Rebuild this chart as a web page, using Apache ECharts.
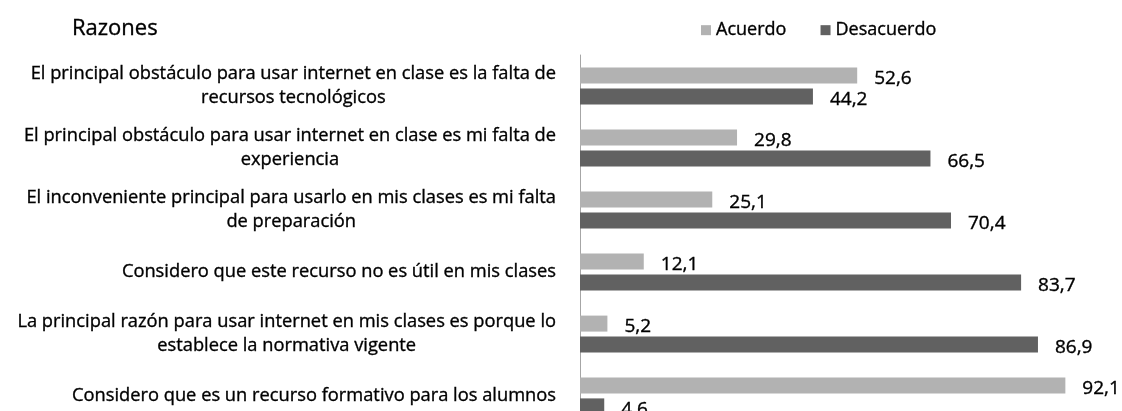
<!DOCTYPE html>
<html>
<head>
<meta charset="utf-8">
<script src="https://cdn.jsdelivr.net/npm/echarts@6/dist/echarts.min.js"></script>
<style>
  html, body { margin: 0; padding: 0; overflow: hidden; background: #fff; }
  #chart { width: 1122px; height: 430px; }
</style>
</head>
<body>
<div id="chart"></div>
<script>
// categorias (con los saltos de línea como en la imagen)
const categories = [
  'El principal obstáculo para usar internet en clase es la falta de\nrecursos tecnológicos',
  'El principal obstáculo para usar internet en clase es mi falta de\nexperiencia',
  'El inconveniente principal para usarlo en mis clases es mi falta\nde preparación',
  'Considero que este recurso no es útil en mis clases',
  'La principal razón para usar internet en mis clases es porque lo\nestablece la normativa vigente',
  'Considero que es un recurso formativo para los alumnos'
];
const acuerdo = [52.6, 29.8, 25.1, 12.1, 5.2, 92.1];
const desacuerdo = [44.2, 66.5, 70.4, 83.7, 86.9, 4.6];

const FONT = '"Open Sans"';
const lightGray = '#b2b2b2';
const darkGray = '#616161';

// trazo fino para que el texto se vea algo más grueso, como en la imagen
const heavy = { textBorderColor: '#000', textBorderWidth: 0.35 };

const chart = echarts.init(document.getElementById('chart'));

// valores con coma decimal
const fmt = p => String(p.value).replace('.', ',');

const valueLabel = Object.assign({
  show: true, position: 'right', distance: 17, offset: [0, 3],
  formatter: fmt, fontFamily: FONT, fontSize: 19, color: '#000'
}, heavy);

const option = {
  animation: false,
  textStyle: { fontFamily: FONT },
  title: {
    text: 'Razones',
    left: 67,
    top: 13,
    textStyle: Object.assign({ fontFamily: FONT, fontSize: 22, fontWeight: 'normal', color: '#000' }, heavy)
  },
  legend: {
    data: ['Acuerdo', 'Desacuerdo'],
    left: 696,
    top: 16,
    icon: 'rect',
    itemWidth: 10,
    itemHeight: 10,
    itemGap: 34,
    textStyle: Object.assign({ fontFamily: FONT, fontSize: 18, color: '#000' }, heavy)
  },
  grid: { left: 580, top: 55, width: 527, height: 372 },
  xAxis: {
    type: 'value',
    min: 0,
    max: 100,
    show: false
  },
  yAxis: {
    type: 'category',
    data: categories,
    inverse: true,
    axisLine: { show: true, lineStyle: { color: '#a6a6a6', width: 1 } },
    axisTick: { show: false },
    axisLabel: {
      margin: 24,
      align: 'right',
      formatter: v => v.split('\n').map(l => '{c|' + l + '}').join('\n'),
      rich: {
        c: Object.assign({ align: 'center', fontFamily: FONT, fontSize: 18.3, lineHeight: 24, color: '#000' }, heavy)
      }
    }
  },
  series: [
    {
      name: 'Acuerdo',
      type: 'bar',
      data: acuerdo,
      barWidth: 16,
      barGap: '30%',
      itemStyle: { color: lightGray },
      label: valueLabel
    },
    {
      name: 'Desacuerdo',
      type: 'bar',
      data: desacuerdo,
      barWidth: 16,
      barGap: '30%',
      itemStyle: { color: darkGray },
      label: valueLabel
    }
  ]
};

chart.setOption(option);
window.addEventListener('resize', () => chart.resize());
</script>
</body>
</html>
